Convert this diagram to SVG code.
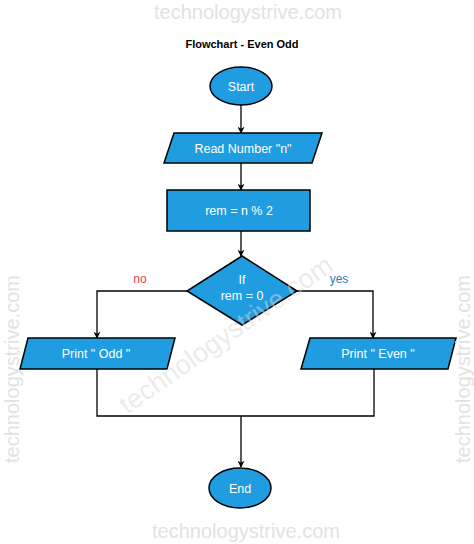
<svg xmlns="http://www.w3.org/2000/svg" width="474" height="544" viewBox="0 0 474 544">
<style>
.shape{fill:#1f9de0;stroke:#000;stroke-width:1.5}
.lbl{font-family:"Liberation Sans",Arial,sans-serif;font-size:12.5px;fill:#fff;text-anchor:middle}
.conn{fill:none;stroke:#000;stroke-width:1.3}
.wm{font-family:"Liberation Sans",Arial,sans-serif;fill:#e2e2e2;text-anchor:middle}
</style>
<defs>
<marker id="arr" viewBox="0 0 10 10" refX="9" refY="5" markerWidth="7" markerHeight="7" orient="auto" markerUnits="userSpaceOnUse">
<path d="M0,0 L10,5 L0,10 L3,5 z" fill="#000"/>
</marker>
</defs>
<rect width="474" height="544" fill="#fff"/>
<text class="wm" x="248" y="19" font-size="20">technologystrive.com</text>
<text x="242" y="48" font-family="Liberation Sans,Arial,sans-serif" font-size="11" font-weight="bold" text-anchor="middle" fill="#000">Flowchart - Even Odd</text>
<g id="connectors">
<line class="conn" x1="241" y1="105" x2="241" y2="133" marker-end="url(#arr)"/>
<line class="conn" x1="241" y1="163" x2="241" y2="190" marker-end="url(#arr)"/>
<line class="conn" x1="241" y1="231" x2="241" y2="256" marker-end="url(#arr)"/>
<polyline class="conn" points="187,291 97,291 97,338" marker-end="url(#arr)"/>
<polyline class="conn" points="297,291 373,291 373,338" marker-end="url(#arr)"/>
<polyline class="conn" points="97,369 97,416 374,416 374,369"/>
<line class="conn" x1="241" y1="416" x2="241" y2="467" marker-end="url(#arr)"/>
<text x="140" y="283" font-family="Liberation Sans,Arial,sans-serif" font-size="12" fill="#e04545" text-anchor="middle">no</text>
<text x="339" y="283" font-family="Liberation Sans,Arial,sans-serif" font-size="12" fill="#2f7fb0" text-anchor="middle">yes</text>
</g>
<g id="start">
<ellipse class="shape" cx="241" cy="86" rx="31" ry="19"/>
<text class="lbl" x="241" y="90.5">Start</text>
</g>
<g id="read">
<polygon class="shape" points="174,133 322,133 312,163 164,163"/>
<text class="lbl" x="243" y="152.5">Read Number "n"</text>
</g>
<g id="rem">
<rect class="shape" x="167" y="190" width="143" height="41"/>
<text class="lbl" x="239" y="215">rem = n % 2</text>
</g>
<g id="decision">
<polygon class="shape" points="242,256 297,291 242,325 187,291"/>
<text class="lbl" x="242" y="284">If</text>
<text class="lbl" x="242" y="300">rem = 0</text>
</g>
<g id="odd">
<polygon class="shape" points="28,338 175,338 167,369 20,369"/>
<text class="lbl" x="96" y="358">Print " Odd "</text>
</g>
<g id="even">
<polygon class="shape" points="310,338 456,338 448,369 301,369"/>
<text class="lbl" x="378" y="358">Print " Even "</text>
</g>
<g id="end">
<ellipse class="shape" cx="240" cy="488" rx="31" ry="20"/>
<text class="lbl" x="240" y="492.5">End</text>
</g>
<g id="watermarks">
<text class="wm" x="246" y="538" font-size="20">technologystrive.com</text>
<text class="wm" x="0" y="0" font-size="20" transform="translate(19,369) rotate(-90)">technologystrive.com</text>
<text class="wm" x="0" y="0" font-size="20" transform="translate(470,369) rotate(-90)">technologystrive.com</text>
<text x="0" y="0" font-family="Liberation Sans,Arial,sans-serif" font-size="27" fill="#d8d8d8" fill-opacity="0.5" text-anchor="middle" transform="translate(231,342) rotate(-35)">technologystrive.com</text>
</g>
</svg>
